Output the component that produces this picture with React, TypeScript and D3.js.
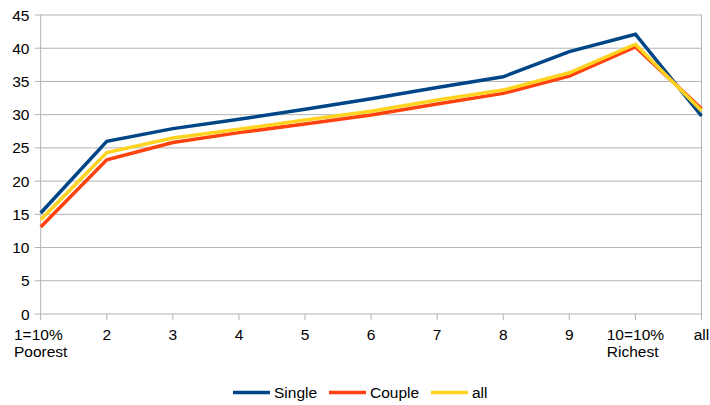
import React from "react";
import * as d3 from "d3";

const categories = ["1=10%\nPoorest", "2", "3", "4", "5", "6", "7", "8", "9", "10=10%\nRichest", "all"];
const single = [15.2, 26.0, 27.9, 29.3, 30.8, 32.4, 34.1, 35.7, 39.5, 42.1, 29.8];
const couple = [13.1, 23.2, 25.8, 27.3, 28.6, 29.95, 31.6, 33.2, 35.8, 40.2, 30.9];
const allv = [14.2, 24.3, 26.5, 27.8, 29.2, 30.5, 32.2, 33.7, 36.3, 40.6, 30.6];
const yTicks = [0, 5, 10, 15, 20, 25, 30, 35, 40, 45];
const seriesNames = ["Single", "Couple", "all"];
const colors = ["#004586", "#ff420e", "#ffd320"];

const font = "'Liberation Sans', Arial, sans-serif";
let ctx: CanvasRenderingContext2D | null = null;
function measure(s: string, size: number): number {
  if (!ctx) {
    const c = document.createElement("canvas");
    ctx = c.getContext("2d");
  }
  if (!ctx) return s.length * size * 0.55;
  ctx.font = `${size}px ${font}`;
  return ctx.measureText(s).width;
}

export default function App() {
  const W = 710, H = 405;
  const left = 40.7, right = 701.5, top = 15, bottom = 314;
  const fs = 15.5;
  const x = d3.scalePoint<string>().domain(categories).range([left, right]).padding(0);
  const y = d3.scaleLinear().domain([0, 45]).range([bottom, top]);
  const line = d3
    .line<number>()
    .x((_, i) => x(categories[i]) as number)
    .y((d) => y(d));
  const series = [single, couple, allv];
  const legendX = [233, 329, 431];
  return (
    <svg
      width={W}
      height={H}
      style={{ position: "absolute", left: 0, top: 0, background: "#fff" }}
      fontFamily={font}
    >
      {yTicks.map((t) => (
        <g key={t}>
          <line x1={left - 6} x2={right} y1={y(t)} y2={y(t)} stroke="#b3b3b3" strokeWidth={1} />
          <text x={29.5} y={y(t) + 5.5} textAnchor="end" fontSize={fs} fill="#000">
            {t}
          </text>
        </g>
      ))}
      <line x1={left} x2={left} y1={top} y2={bottom + 6} stroke="#b3b3b3" />
      <line x1={right} x2={right} y1={top} y2={bottom + 6} stroke="#b3b3b3" />
      {categories.map((c, i) => {
        const cx = x(c) as number;
        const lines = c.split("\n");
        const bw = Math.max(...lines.map((l) => measure(l, fs)));
        const lx = cx - bw / 2;
        return (
          <g key={c}>
            {i > 0 && i < categories.length - 1 && (
              <line x1={cx} x2={cx} y1={bottom} y2={bottom + 6} stroke="#b3b3b3" />
            )}
            {lines.map((l, j) => (
              <text key={j} x={lx} y={339.5 + j * 17.5} fontSize={fs} fill="#000" textAnchor="start">
                {l}
              </text>
            ))}
          </g>
        );
      })}
      {series.map((s, i) => (
        <path key={i} d={line(s) || ""} fill="none" stroke={colors[i]} strokeWidth={3.5} strokeLinejoin="miter" />
      ))}
      {seriesNames.map((n, i) => (
        <g key={n}>
          <line x1={legendX[i]} x2={legendX[i] + 37} y1={392.5} y2={392.5} stroke={colors[i]} strokeWidth={3.5} />
          <text x={legendX[i] + 41} y={397.5} fontSize={fs} fill="#000">
            {n}
          </text>
        </g>
      ))}
    </svg>
  );
}
